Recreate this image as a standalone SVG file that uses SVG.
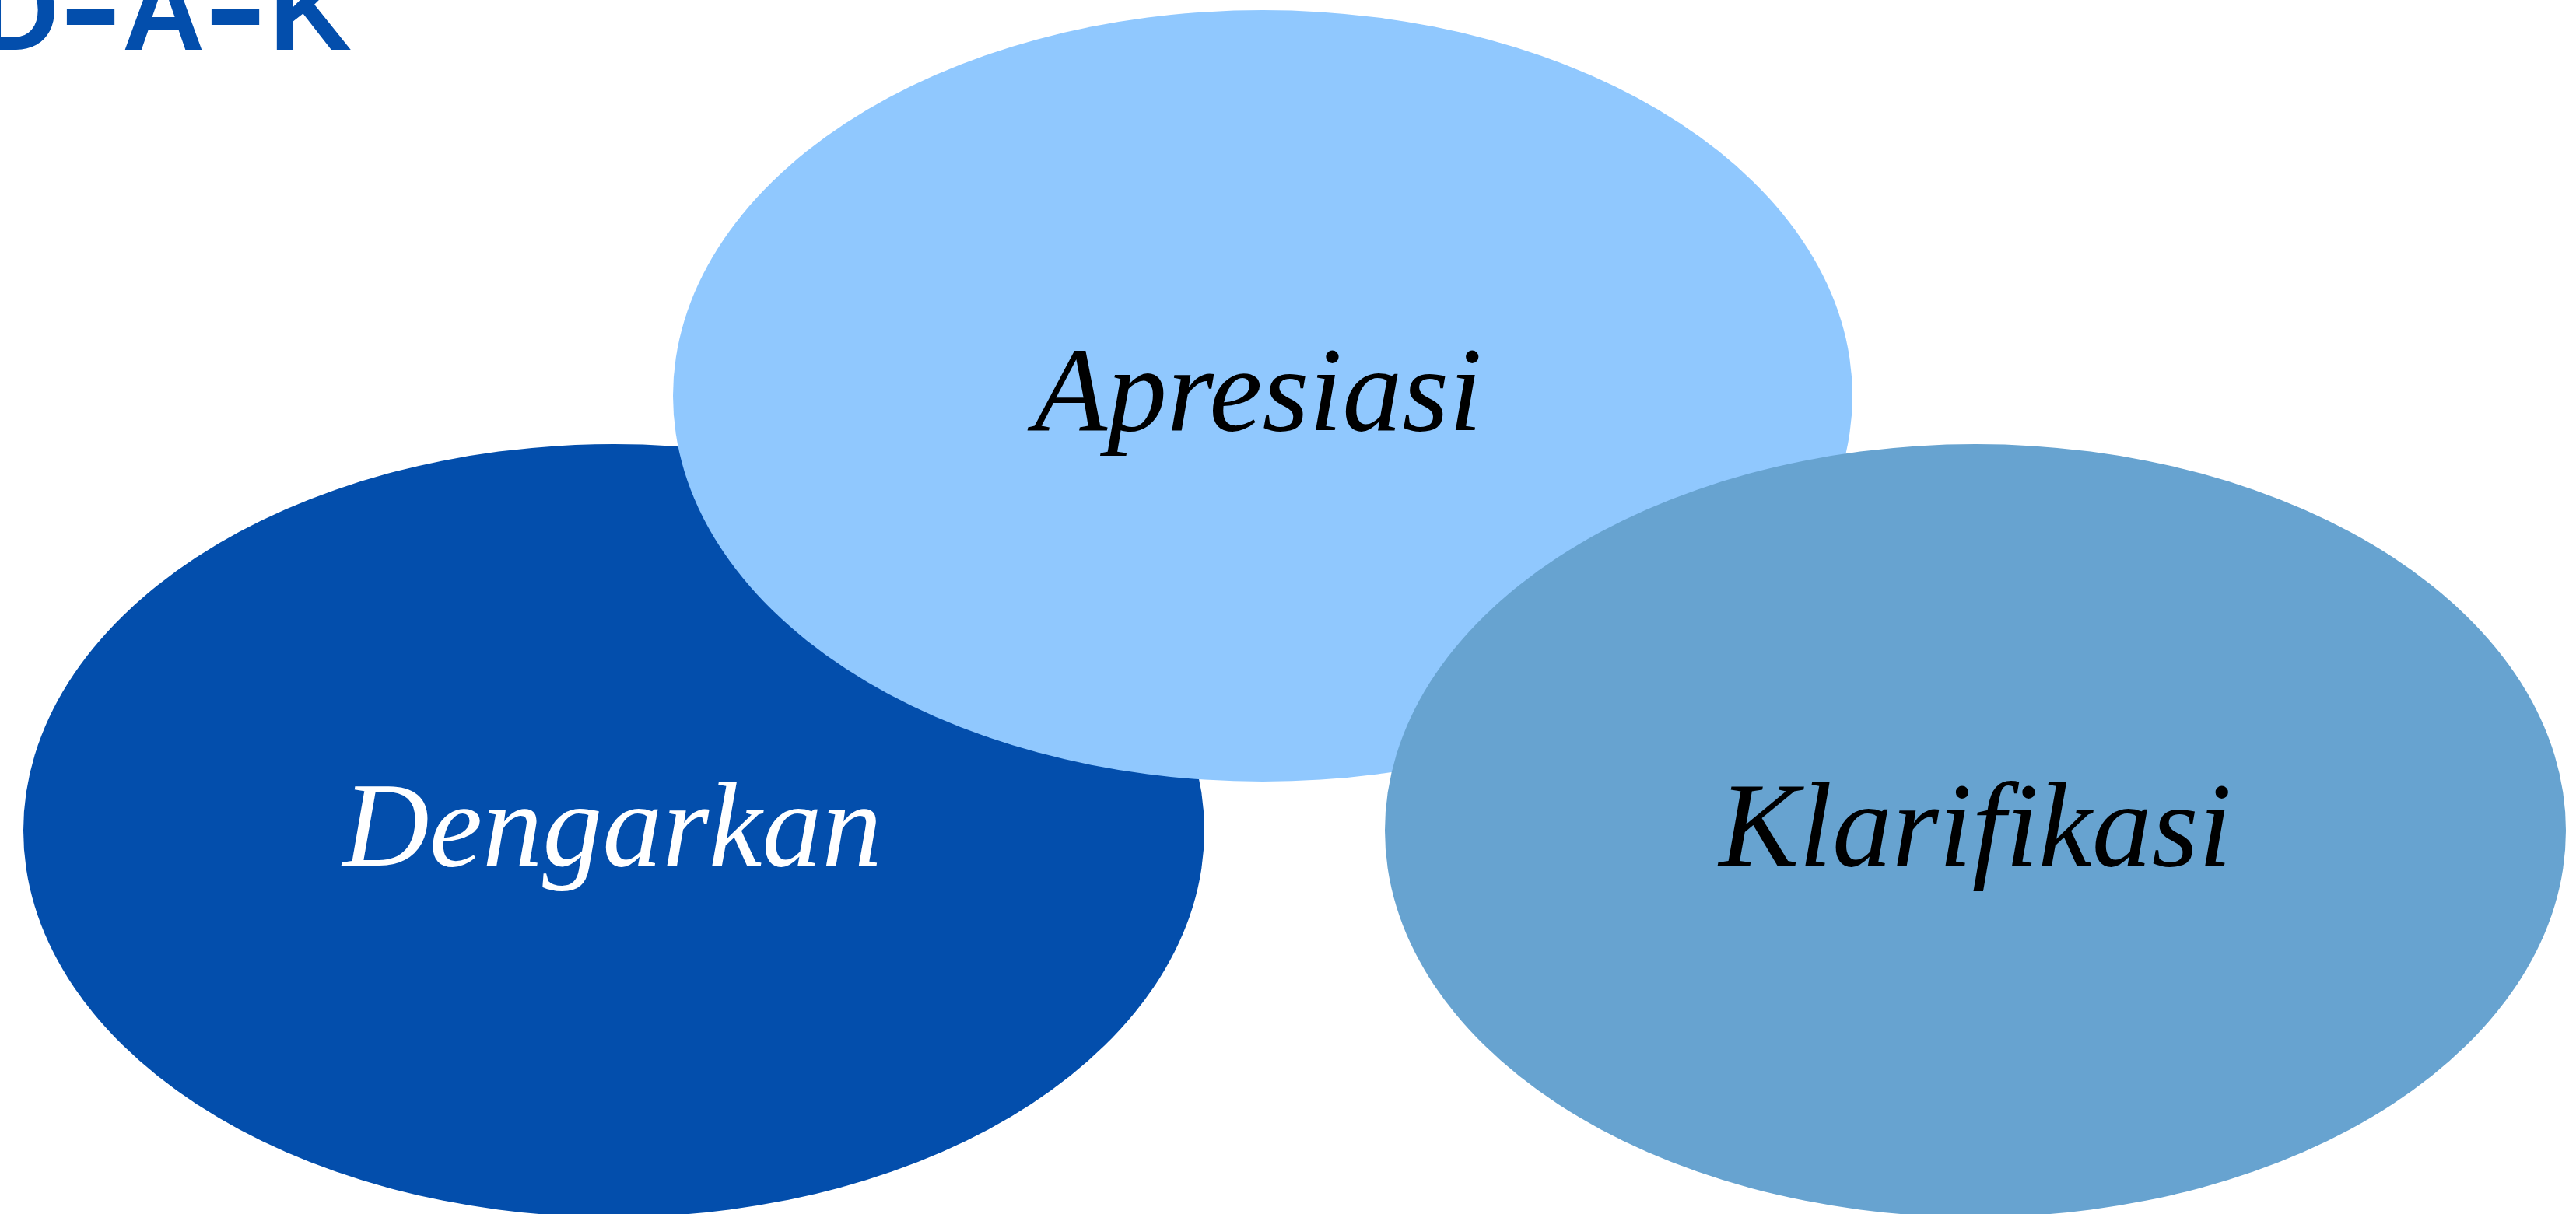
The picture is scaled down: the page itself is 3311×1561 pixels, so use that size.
<svg xmlns="http://www.w3.org/2000/svg" width="3311" height="1561" viewBox="0 0 3311 1561">
<style>
.lbl{font-family:"Liberation Serif","Times New Roman",serif;font-style:italic;font-size:154px;text-anchor:middle}
.ttl{font-family:"Liberation Sans",Arial,sans-serif;font-weight:bold;font-size:147px;fill:#034EAC}
</style>
<rect width="3311" height="1561" fill="#FFFFFF"/>
<g id="title">
<text class="ttl" x="-30" y="64">D</text>
<text class="ttl" transform="translate(76.5,66) scale(1.64,1.15)" x="0" y="0">-</text>
<text class="ttl" x="157" y="64">A</text>
<text class="ttl" transform="translate(262.5,66) scale(1.64,1.15)" x="0" y="0">-</text>
<text class="ttl" x="346" y="64">K</text>
</g>
<g id="connectors"></g>
<g id="node-dengarkan">
<ellipse cx="789" cy="1068" rx="759" ry="497" fill="#034EAC"/>
<text class="lbl" x="787" y="1113" fill="#FFFFFF">Dengarkan</text>
</g>
<g id="node-apresiasi">
<ellipse cx="1623" cy="509" rx="758" ry="496" fill="#90C8FE"/>
<text class="lbl" x="1617" y="553" fill="#000000">Apresiasi</text>
</g>
<g id="node-klarifikasi">
<ellipse cx="2539" cy="1068" rx="759" ry="497" fill="#67A3D0"/>
<text class="lbl" x="2539" y="1113" fill="#000000">Klarifikasi</text>
</g>
</svg>
